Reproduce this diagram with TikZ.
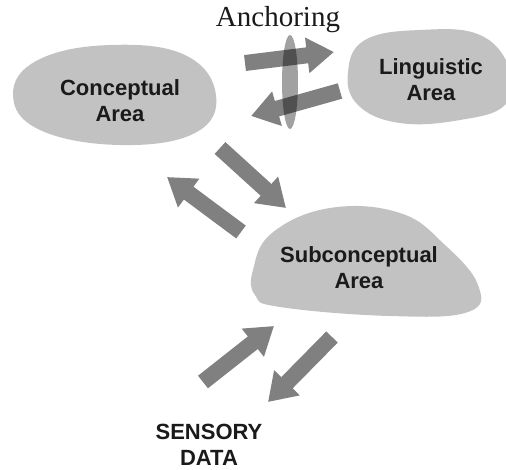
\documentclass[tikz,border=0pt]{standalone}
\usepackage{fontspec}
\setmainfont{Liberation Serif}
\setsansfont{Liberation Sans}
\usetikzlibrary{arrows.meta}
\definecolor{blobgray}{HTML}{C2C2C2}
\definecolor{arrowgray}{HTML}{808080}
\definecolor{txt}{HTML}{1A1A1A}
\begin{document}
\begin{tikzpicture}[x=1pt,y=-1pt,
  blob/.style={fill=blobgray,draw=none},
  lbl/.style={font=\sffamily\bfseries\fontsize{22}{26}\selectfont,text=txt,align=center,inner sep=0pt},
  blockarrow/.style={draw=arrowgray,line width=16pt,
    -{Triangle[length=27pt,width=34pt,fill=arrowgray]}},
  anchorell/.style={fill=black,fill opacity=0.37,draw=none}]
\useasboundingbox (0,0) rectangle (506,469);
% blobs
\fill[blob] plot[smooth cycle,tension=0.7] coordinates
  {(13,95) (38,60) (110,45) (185,55) (216,95) (195,133) (120,145) (40,130)};
\fill[blob] plot[smooth cycle,tension=0.7] coordinates
  {(348,72) (365,40) (420,30) (480,35) (510,70) (505,105) (460,120) (400,123) (358,105)};
\fill[blob] plot[smooth cycle,tension=0.7] coordinates
  {(253,270) (272,233) (330,208) (400,213) (445,245) (478,285) (468,312) (390,316) (280,307) (255,295)};
% labels
\node[lbl] (conc) at (120,101) {Conceptual\\Area};
\node[lbl] (ling) at (431,80) {Linguistic\\Area};
\node[lbl] (sub) at (359,268) {Subconceptual\\Area};
\node[lbl] (sens) at (209,445) {SENSORY\\DATA};
\node[font=\rmfamily\fontsize{29}{32}\selectfont,text=txt,inner sep=0pt] (anch) at (278,20) {Anchoring};
% arrow endpoints
\coordinate (a1s) at (245,63);  \coordinate (a1e) at (334,52);
\coordinate (a2s) at (340,91);  \coordinate (a2e) at (251,116);
\coordinate (a3s) at (220,148); \coordinate (a3e) at (286,208);
\coordinate (a4s) at (241,232); \coordinate (a4e) at (167,177);
\coordinate (a5s) at (203,382); \coordinate (a5e) at (274,326);
\coordinate (a6s) at (332,337); \coordinate (a6e) at (268,402);
\draw[blockarrow] (a1s) -- (a1e);
\draw[blockarrow] (a2s) -- (a2e);
\draw[blockarrow] (a3s) -- (a3e);
\draw[blockarrow] (a4s) -- (a4e);
\draw[blockarrow] (a5s) -- (a5e);
\draw[blockarrow] (a6s) -- (a6e);
% anchoring ellipse
\fill[anchorell] (290,82) ellipse[x radius=8,y radius=47];
\end{tikzpicture}
\end{document}
